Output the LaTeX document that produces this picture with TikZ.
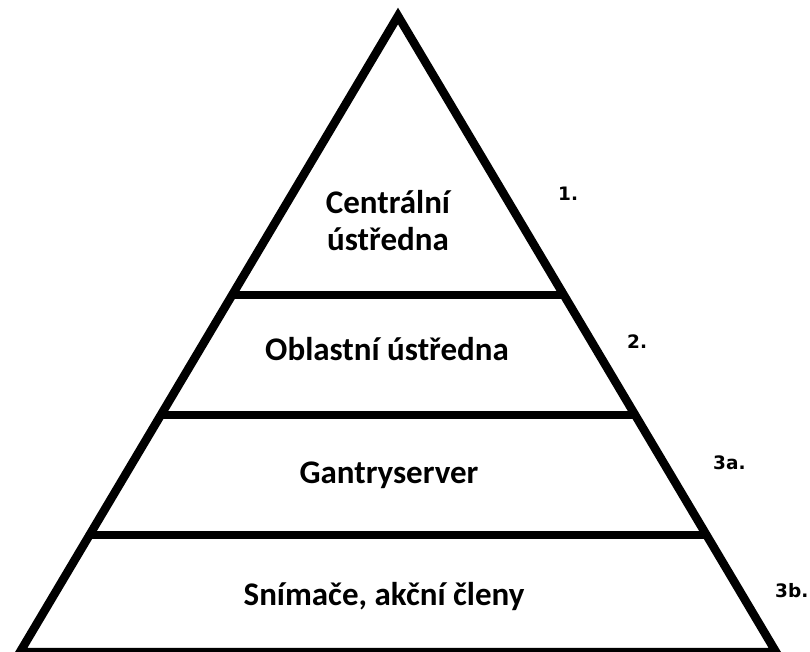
\documentclass[tikz,border=0pt]{standalone}
\usepackage{fontspec}
\setmainfont{Carlito}
\newfontfamily\numfont{DejaVu Sans}
\begin{document}
\begin{tikzpicture}[x=1pt,y=-1pt,
  edge/.style={line width=8.5pt,line cap=butt,line join=miter},
  lvl/.style={font=\bfseries\fontsize{33}{40}\selectfont,anchor=base,align=center,inner sep=0pt},
  num/.style={font=\numfont\bfseries\fontsize{18.5}{22}\selectfont,anchor=base west,inner sep=0pt}]
\useasboundingbox (0,0) rectangle (810,651);
\coordinate (A) at (398,16);
\coordinate (L) at (20,652);
\coordinate (R) at (776,652);
\coordinate (l1) at (231,295); \coordinate (r1) at (565,295);
\coordinate (l2) at (160,415); \coordinate (r2) at (636,415);
\coordinate (l3) at (89,535);  \coordinate (r3) at (707,535);
\begin{scope}
\clip (0,0) rectangle (810,651);
\draw[edge] (L) -- (A) -- (R) -- cycle;
\end{scope}
\draw[edge] (l1) -- (r1);
\draw[edge] (l2) -- (r2);
\draw[edge] (l3) -- (r3);
\node[lvl] (t1a) at (388,213) {Centrální};
\node[lvl] (t1b) at (388,250) {ústředna};
\node[lvl] (t2) at (387,360) {Oblastní ústředna};
\node[lvl] (t3) at (389,483) {Gantryserver};
\node[lvl] (t4) at (384,605) {Snímače, akční členy};
\node[num] (n1) at (558,200) {1.};
\node[num] (n2) at (627,348) {2.};
\node[num] (n3) at (713,469) {3a.};
\node[num] (n4) at (775,597) {3b.};
\end{tikzpicture}
\end{document}
